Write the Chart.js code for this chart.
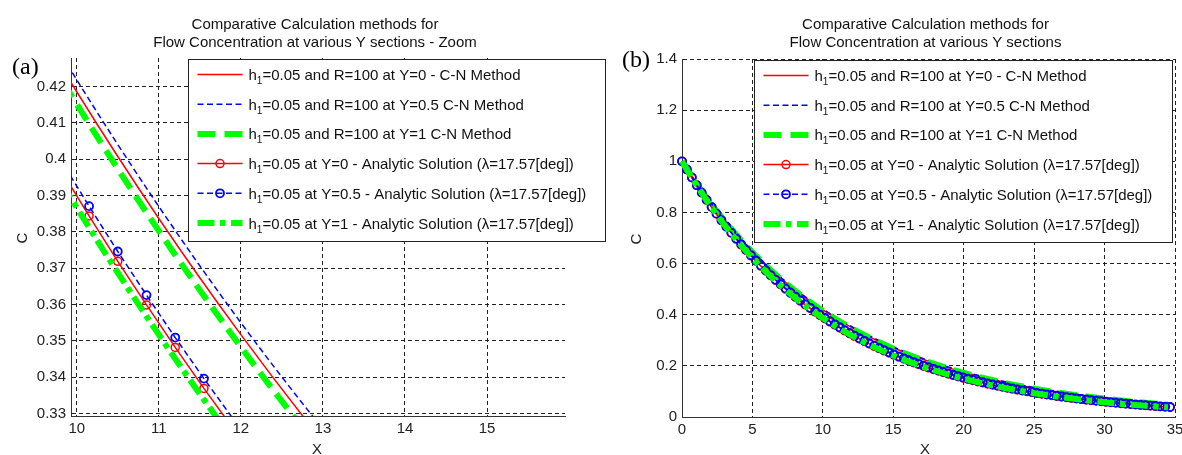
<!doctype html>
<html lang="en">
<head>
<meta charset="utf-8">
<title>Comparative Calculation methods for Flow Concentration</title>
<script src="https://cdn.jsdelivr.net/npm/chart.js@4.4.0/dist/chart.umd.min.js"></script>
<style>
  body { margin: 0; background: #fff; width: 1182px; height: 455px; overflow: hidden; position: relative; }
  canvas { position: absolute; top: 0; }
  #chartA { left: 0; }
  #chartB { left: 610px; }
</style>
</head>
<body>
<canvas id="chartA" width="610" height="455"></canvas>
<canvas id="chartB" width="572" height="455"></canvas>
<script>
// ---- data ----
// analytic solution, one point every 0.35 in X (markers)
const xAnalytic = [
  0, 0.35, 0.7, 1.05, 1.4, 1.75, 2.1, 2.45, 2.8, 3.15,
  3.5, 3.85, 4.2, 4.55, 4.9, 5.25, 5.6, 5.95, 6.3, 6.65,
  7, 7.35, 7.7, 8.05, 8.4, 8.75, 9.1, 9.45, 9.8, 10.15,
  10.5, 10.85, 11.2, 11.55, 11.9, 12.25, 12.6, 12.95, 13.3, 13.65,
  14, 14.35, 14.7, 15.05, 15.4, 15.75, 16.1, 16.45, 16.8, 17.15,
  17.5, 17.85, 18.2, 18.55, 18.9, 19.25, 19.6, 19.95, 20.3, 20.65,
  21, 21.35, 21.7, 22.05, 22.4, 22.75, 23.1, 23.45, 23.8, 24.15,
  24.5, 24.85, 25.2, 25.55, 25.9, 26.25, 26.6, 26.95, 27.3, 27.65,
  28, 28.35, 28.7, 29.05, 29.4, 29.75, 30.1, 30.45, 30.8, 31.15,
  31.5, 31.85, 32.2, 32.55, 32.9, 33.25, 33.6, 33.95, 34.3, 34.65
];
const cAnaY0 = [
  1.0000, 0.9676, 0.9362, 0.9058, 0.8765, 0.8480, 0.8205, 0.7939, 0.7682, 0.7433,
  0.7192, 0.6958, 0.6733, 0.6514, 0.6303, 0.6099, 0.5901, 0.5710, 0.5524, 0.5345,
  0.5172, 0.5004, 0.4842, 0.4685, 0.4533, 0.4386, 0.4244, 0.4106, 0.3973, 0.3844,
  0.3719, 0.3599, 0.3482, 0.3369, 0.3260, 0.3154, 0.3052, 0.2953, 0.2857, 0.2765,
  0.2675, 0.2588, 0.2504, 0.2423, 0.2344, 0.2268, 0.2195, 0.2124, 0.2055, 0.1988,
  0.1924, 0.1861, 0.1801, 0.1743, 0.1686, 0.1631, 0.1578, 0.1527, 0.1478, 0.1430,
  0.1383, 0.1339, 0.1295, 0.1253, 0.1213, 0.1173, 0.1135, 0.1098, 0.1063, 0.1028,
  0.0995, 0.0963, 0.0931, 0.0901, 0.0872, 0.0844, 0.0816, 0.0790, 0.0764, 0.0740,
  0.0716, 0.0692, 0.0670, 0.0648, 0.0627, 0.0607, 0.0587, 0.0568, 0.0550, 0.0532,
  0.0515, 0.0498, 0.0482, 0.0466, 0.0451, 0.0436, 0.0422, 0.0409, 0.0395, 0.0382
];
const cAnaY05 = [
  1.0000, 0.9678, 0.9367, 0.9065, 0.8774, 0.8490, 0.8217, 0.7953, 0.7697, 0.7449,
  0.7210, 0.6977, 0.6753, 0.6535, 0.6325, 0.6121, 0.5924, 0.5734, 0.5548, 0.5370,
  0.5197, 0.5030, 0.4868, 0.4711, 0.4560, 0.4413, 0.4271, 0.4133, 0.4000, 0.3871,
  0.3746, 0.3626, 0.3509, 0.3396, 0.3287, 0.3181, 0.3079, 0.2980, 0.2884, 0.2791,
  0.2701, 0.2614, 0.2530, 0.2449, 0.2369, 0.2293, 0.2220, 0.2148, 0.2079, 0.2012,
  0.1948, 0.1884, 0.1824, 0.1766, 0.1708, 0.1653, 0.1600, 0.1548, 0.1499, 0.1451,
  0.1403, 0.1359, 0.1315, 0.1272, 0.1232, 0.1192, 0.1153, 0.1116, 0.1081, 0.1045,
  0.1012, 0.0980, 0.0947, 0.0917, 0.0888, 0.0860, 0.0831, 0.0805, 0.0779, 0.0754,
  0.0730, 0.0706, 0.0684, 0.0661, 0.0640, 0.0620, 0.0599, 0.0580, 0.0562, 0.0544,
  0.0526, 0.0509, 0.0493, 0.0477, 0.0461, 0.0446, 0.0432, 0.0419, 0.0405, 0.0391
];
// C-N curves and the Y=1 analytic curve, one point per unit of X
const xUnit = [0, 1, 2, 3, 4, 5, 6, 7, 8, 9, 10, 11, 12, 13, 14, 15, 16, 17,
  18, 19, 20, 21, 22, 23, 24, 25, 26, 27, 28, 29, 30, 31, 32, 33, 34, 34.5];
const cAnaY1 = [1.0000, 0.9094, 0.8270, 0.7520, 0.6839, 0.6219, 0.5655, 0.5143, 0.4677, 0.4253,
  0.3867, 0.3517, 0.3198, 0.2908, 0.2645, 0.2405, 0.2187, 0.1989, 0.1809, 0.1645,
  0.1496, 0.1360, 0.1237, 0.1125, 0.1023, 0.0930, 0.0846, 0.0769, 0.0700, 0.0636,
  0.0578, 0.0526, 0.0478, 0.0435, 0.0396, 0.0377];
const cCnY0 = [1.0000, 0.9166, 0.8401, 0.7701, 0.7058, 0.6470, 0.5930, 0.5435, 0.4982, 0.4567,
  0.4186, 0.3837, 0.3517, 0.3223, 0.2954, 0.2708, 0.2482, 0.2275, 0.2085, 0.1911,
  0.1752, 0.1606, 0.1472, 0.1349, 0.1237, 0.1133, 0.1039, 0.0952, 0.0873, 0.0800,
  0.0733, 0.0672, 0.0616, 0.0565, 0.0518, 0.0496];
const cCnY05 = [1.0000, 0.9173, 0.8414, 0.7719, 0.7081, 0.6496, 0.5958, 0.5466, 0.5014, 0.4599,
  0.4219, 0.3870, 0.3550, 0.3257, 0.2987, 0.2740, 0.2514, 0.2306, 0.2115, 0.1940,
  0.1780, 0.1633, 0.1498, 0.1374, 0.1260, 0.1156, 0.1061, 0.0973, 0.0892, 0.0819,
  0.0751, 0.0689, 0.0632, 0.0580, 0.0532, 0.0510];
const cCnY1 = [1.0000, 0.9159, 0.8388, 0.7682, 0.7036, 0.6444, 0.5902, 0.5405, 0.4950, 0.4534,
  0.4152, 0.3803, 0.3483, 0.3190, 0.2921, 0.2675, 0.2450, 0.2244, 0.2055, 0.1882,
  0.1724, 0.1579, 0.1446, 0.1324, 0.1213, 0.1111, 0.1017, 0.0932, 0.0853, 0.0781,
  0.0716, 0.0655, 0.0600, 0.0550, 0.0504, 0.0483];

const seriesLabels = [
  'h1=0.05 and R=100 at Y=0 - C-N Method',
  'h1=0.05 and R=100 at Y=0.5 C-N Method',
  'h1=0.05 and R=100 at Y=1 C-N Method',
  'h1=0.05 at Y=0 - Analytic Solution (\u03bb=17.57[deg])',
  'h1=0.05 at Y=0.5 - Analytic Solution (\u03bb=17.57[deg])',
  'h1=0.05 at Y=1 - Analytic Solution (\u03bb=17.57[deg])'
];

// tick labels
const xTicksA = [10, 11, 12, 13, 14, 15];
const yTicksA = [0.33, 0.34, 0.35, 0.36, 0.37, 0.38, 0.39, 0.4, 0.41, 0.42];
const xTicksB = [0, 5, 10, 15, 20, 25, 30, 35];
const yTicksB = [0, 0.2, 0.4, 0.6, 0.8, 1, 1.2, 1.4];

const titleA = ['Comparative Calculation methods for', 'Flow Concentration at various Y sections - Zoom'];
const titleB = ['Comparative Calculation methods for', 'Flow Concentration at various Y sections'];

// ---- drawing ----
const SANS = '"Liberation Sans", Arial, Helvetica, sans-serif';
Chart.defaults.font.family = SANS;
Chart.defaults.font.size = 15;
Chart.defaults.color = '#222';

function pts(xs, ys) {
  return xs.map((x, i) => ({ x: x, y: ys[i] }));
}

// markers whose centre falls outside the axes are not drawn (as in the original plot)
function markerRadius(size) {
  return c => {
    const p = c.raw, s = c.chart.scales;
    if (!p) return 0;
    return (p.x >= s.x.min && p.x <= s.x.max && p.y >= s.y.min && p.y <= s.y.max) ? size : 0;
  };
}

function makeDatasets(clip) {
  const red = '#ff0000', blue = '#0000ff', green = '#00ff00';
  return [
    { label: seriesLabels[0], data: pts(xUnit, cCnY0), borderColor: red, borderWidth: 1.5,
      borderDash: [], marker: 0, cubicInterpolationMode: 'monotone', order: 5 },
    { label: seriesLabels[1], data: pts(xUnit, cCnY05), borderColor: blue, borderWidth: 1.5,
      borderDash: [6, 3.5], marker: 0, cubicInterpolationMode: 'monotone', order: 4 },
    { label: seriesLabels[2], data: pts(xUnit, cCnY1), borderColor: green, borderWidth: 6,
      borderDash: [18, 9], marker: 0, cubicInterpolationMode: 'monotone', order: 3 },
    { label: seriesLabels[3], data: pts(xAnalytic, cAnaY0), borderColor: red, borderWidth: 1.5,
      borderDash: [], marker: 4, pointBorderWidth: 1.5, pointBorderColor: red, order: 2 },
    { label: seriesLabels[4], data: pts(xAnalytic, cAnaY05), borderColor: blue, borderWidth: 1.5,
      borderDash: [6, 3.5], marker: 4, pointBorderWidth: 1.8, pointBorderColor: blue, order: 1 },
    { label: seriesLabels[5], data: pts(xUnit, cAnaY1), borderColor: green, borderWidth: 6,
      borderDash: [17, 5.5, 5.5, 5.5], marker: 0, cubicInterpolationMode: 'monotone', order: 0 }
  ].map(d => Object.assign(d, {
    fill: false, clip: clip, pointHoverRadius: 0,
    pointRadius: markerRadius(d.marker), pointBackgroundColor: 'rgba(0,0,0,0)'
  }));
}

function fmt(v) {
  return String(Math.round(v * 100) / 100);
}

function makeScale(min, max, ticks, size, isX) {
  return {
    type: 'linear',
    min: min,
    max: max,
    afterBuildTicks: s => { s.ticks = ticks.map(v => ({ value: v })); },
    afterFit: s => {
      if (isX) s.height = size; else s.width = size;
      s.paddingLeft = 0; s.paddingRight = 0; s.paddingTop = 0; s.paddingBottom = 0;
    },
    grid: { color: '#222', lineWidth: 1, drawTicks: false },
    border: { display: true, color: '#333', width: 1, dash: [4, 3] },
    ticks: { callback: fmt, padding: isX ? 4 : 5, autoSkip: false, maxRotation: 0, color: '#222',
      font: { size: 15 } }
  };
}

// titles, panel tags, axis names and the boxed legend
const decorPlugin = {
  id: 'decor',
  afterDraw(chart, args, o) {
    const ctx = chart.ctx;
    const area = chart.chartArea;
    ctx.save();

    ctx.fillStyle = '#111';
    ctx.font = '15px ' + SANS;
    ctx.textAlign = 'center';
    ctx.textBaseline = 'alphabetic';
    const cx = (area.left + area.right) / 2 - 3;
    o.title.forEach((t, i) => ctx.fillText(t, cx, 28.5 + i * 18.5));

    ctx.fillStyle = '#222';
    ctx.fillText('X', o.xLabelX, 454);
    ctx.save();
    ctx.translate(o.cLabelX, (area.top + area.bottom) / 2 + 1);
    ctx.rotate(-Math.PI / 2);
    ctx.textBaseline = 'middle';
    ctx.fillText('C', 0, 0);
    ctx.restore();

    ctx.fillStyle = '#000';
    ctx.textAlign = 'left';
    ctx.font = '24px "Liberation Serif", "Times New Roman", serif';
    ctx.fillText(o.tag, o.tagX, o.tagY);

    const L = o.legend;
    ctx.fillStyle = '#fff';
    ctx.fillRect(L.x, L.y, L.w, L.h);
    ctx.strokeStyle = '#222';
    ctx.lineWidth = 1;
    ctx.strokeRect(L.x + 0.5, L.y + 0.5, L.w, L.h);

    chart.data.datasets.forEach((ds, i) => {
      const y = L.y + 15.5 + i * 29.7;
      const x0 = L.x + 9.5, x1 = L.x + 54.5;
      ctx.save();
      ctx.strokeStyle = ds.borderColor;
      ctx.lineWidth = ds.borderWidth;
      ctx.setLineDash(ds.borderDash);
      ctx.beginPath();
      ctx.moveTo(x0, y);
      ctx.lineTo(x1, y);
      ctx.stroke();
      if (ds.marker > 0) {
        ctx.setLineDash([]);
        ctx.lineWidth = ds.pointBorderWidth;
        ctx.beginPath();
        ctx.arc((x0 + x1) / 2, y, ds.marker, 0, Math.PI * 2);
        ctx.stroke();
      }
      ctx.restore();

      // "h" + subscript "1" + rest of the label
      let tx = L.x + 60.5;
      ctx.fillStyle = '#111';
      ctx.font = '15px ' + SANS;
      ctx.fillText(ds.label[0], tx, y + 5.5);
      tx += ctx.measureText(ds.label[0]).width;
      ctx.font = '10px ' + SANS;
      ctx.fillText(ds.label[1], tx, y + 9.5);
      tx += ctx.measureText(ds.label[1]).width;
      ctx.font = '15px ' + SANS;
      ctx.fillText(ds.label.slice(2), tx, y + 5.5);
    });

    ctx.restore();
  }
};

function makeChart(id, cfg) {
  return new Chart(document.getElementById(id), {
    type: 'line',
    data: { datasets: makeDatasets(cfg.clip) },
    options: {
      responsive: false,
      animation: false,
      events: [],
      layout: { padding: cfg.padding },
      scales: {
        x: makeScale(cfg.xMin, cfg.xMax, cfg.xTicks, cfg.xSize, true),
        y: makeScale(cfg.yMin, cfg.yMax, cfg.yTicks, cfg.ySize, false)
      },
      plugins: {
        legend: { display: false },
        tooltip: { enabled: false },
        decor: cfg.decor
      }
    },
    plugins: [decorPlugin]
  });
}

makeChart('chartA', {
  clip: 0,
  padding: { left: 0, top: 58, right: 45, bottom: 0 },
  xMin: 9.93, xMax: 15.95, xTicks: xTicksA, xSize: 39,
  yMin: 0.3293, yMax: 0.4279, yTicks: yTicksA, ySize: 71,
  decor: {
    title: titleA, tag: '(a)', tagX: 12, tagY: 74, xLabelX: 317, cLabelX: 23,
    legend: { x: 188, y: 59, w: 417, h: 182 }
  }
});

makeChart('chartB', {
  clip: false,
  padding: { left: 0, top: 59, right: 7, bottom: 0 },
  xMin: 0, xMax: 35, xTicks: xTicksB, xSize: 38,
  yMin: 0, yMax: 1.4, yTicks: yTicksB, ySize: 72,
  decor: {
    title: titleB, tag: '(b)', tagX: 12, tagY: 67, xLabelX: 315, cLabelX: 27,
    legend: { x: 144, y: 60, w: 418, h: 182 }
  }
});
</script>
</body>
</html>
